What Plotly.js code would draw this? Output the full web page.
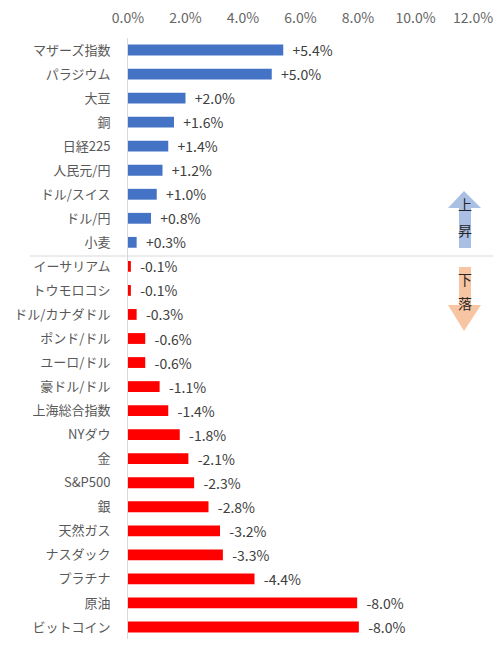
<!DOCTYPE html>
<html>
<head>
<meta charset="utf-8">
<script src="https://cdn.plot.ly/plotly-3.0.1.min.js"></script>
<style>
  html, body { margin: 0; padding: 0; background: #fff; }
  #chart { width: 500px; height: 653px; }
</style>
</head>
<body>
<div id="chart"></div>
<script>
const names = ['マザーズ指数', 'パラジウム', '大豆', '銅', '日経225', '人民元/円', 'ドル/スイス', 'ドル/円', '小麦',
  'イーサリアム', 'トウモロコシ', 'ドル/カナダドル', 'ポンド/ドル', 'ユーロ/ドル', '豪ドル/ドル', '上海総合指数',
  'NYダウ', '金', 'S&P500', '銀', '天然ガス', 'ナスダック', 'プラチナ', '原油', 'ビットコイン'];
const changes = [5.4, 5.0, 2.0, 1.6, 1.4, 1.2, 1.0, 0.8, 0.3,
  -0.1, -0.1, -0.3, -0.6, -0.6, -1.1, -1.4,
  -1.8, -2.1, -2.3, -2.8, -3.2, -3.3, -4.4, -7.97, -8.03];
const xTicks = [0, 2, 4, 6, 8, 10, 12];

// plot area in pixels, used to place the decorations
const W = 500, H = 653;
const L = 128, R = 27, T = 38, B = 14;
const px = x => (x - L) / (W - L - R);
const py = y => (H - B - y) / (H - T - B);

const FONT = '"Noto Sans CJK JP", "Noto Sans", sans-serif';

const trace = {
  type: 'bar',
  orientation: 'h',
  y: names,
  x: changes.map(v => Math.abs(v)),
  text: changes.map(v => '  ' + (v > 0 ? '+' : '') + v.toFixed(1) + '%'),
  textposition: 'outside',
  constraintext: 'none',
  cliponaxis: false,
  textfont: { family: FONT, size: 14, color: '#404040' },
  outsidetextfont: { family: FONT, size: 14, color: '#404040' },
  marker: { color: changes.map(v => v > 0 ? '#4472C4' : '#FF0000') },
  hoverinfo: 'skip'
};

function arrow(pts) {
  return 'M ' + pts.map(p => px(p[0]) + ',' + py(p[1])).join(' L ') + ' Z';
}

const layout = {
  width: W, height: H,
  margin: { l: L, r: R, t: T, b: B },
  paper_bgcolor: '#fff', plot_bgcolor: '#fff',
  showlegend: false,
  bargap: 0.55,
  font: { family: FONT, color: '#595959' },
  xaxis: {
    side: 'top',
    range: [0, 12],
    tickvals: xTicks,
    ticktext: xTicks.map(v => v.toFixed(1) + '%'),
    showgrid: false, zeroline: false, showline: false,
    ticks: '',
    ticklabelstandoff: 11,
    tickfont: { family: FONT, size: 14, color: '#666666' },
    fixedrange: true
  },
  yaxis: {
    autorange: 'reversed',
    showgrid: false, zeroline: false,
    showline: true, linecolor: '#d9d9d9', linewidth: 1,
    ticks: '',
    ticklabelstandoff: 14,
    tickfont: { family: FONT, size: 13, color: '#595959' },
    fixedrange: true
  },
  shapes: [
    { type: 'line', xref: 'paper', yref: 'paper', x0: px(30), x1: px(493), y0: py(256), y1: py(256),
      line: { color: '#d9d9d9', width: 1 } },
    { type: 'path', xref: 'paper', yref: 'paper', line: { width: 0 }, fillcolor: '#A9BFE3',
      path: arrow([[464, 191], [481, 208], [471, 208], [471, 248], [459, 248], [459, 208], [448, 208]]) },
    { type: 'path', xref: 'paper', yref: 'paper', line: { width: 0 }, fillcolor: '#F8C5A2',
      path: arrow([[459, 267], [471, 267], [471, 305], [481, 305], [464, 331], [448, 305], [459, 305]]) }
  ],
  annotations: [
    ['上', 204], ['昇', 230], ['下', 279], ['落', 303]
  ].map(a => ({
    xref: 'paper', yref: 'paper', x: px(465), y: py(a[1]),
    xanchor: 'center', yanchor: 'middle',
    text: a[0], showarrow: false,
    font: { family: FONT, size: 14, color: '#262626' }
  }))
};

Plotly.newPlot('chart', [trace], layout, { displayModeBar: false, staticPlot: true });
</script>
</body>
</html>
